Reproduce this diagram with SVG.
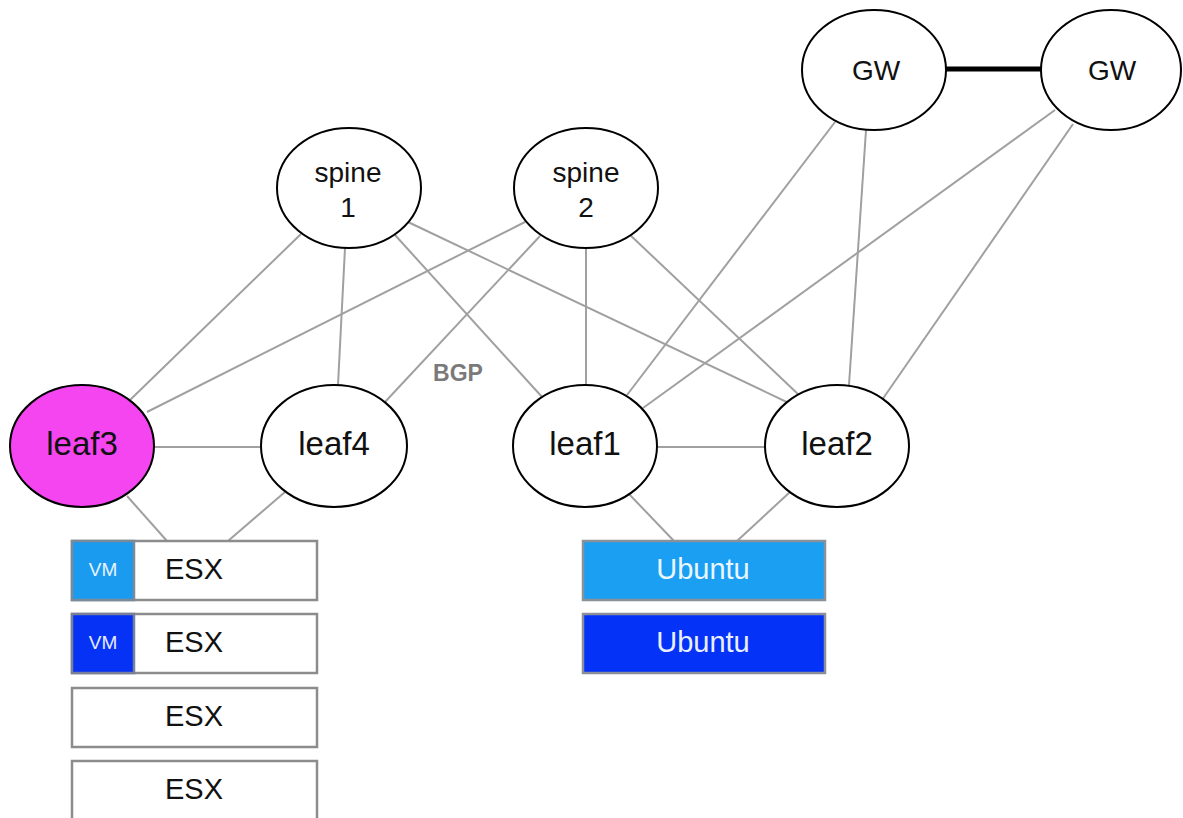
<svg xmlns="http://www.w3.org/2000/svg" width="1183" height="818" viewBox="0 0 1183 818">
<style>
.n{stroke:#000;stroke-width:2;fill:#fff}
.c line{stroke:#a0a0a0;stroke-width:2}
.t{font-family:"Liberation Sans",Arial,sans-serif;fill:#111;text-anchor:middle}
.b{stroke:#8c8c8c;stroke-width:2.5;fill:#fff}
</style>
<rect width="1183" height="818" fill="#fff"/>
<g id="connectors" class="c">
<line x1="301" y1="234" x2="130" y2="400"/>
<line x1="345" y1="248" x2="338" y2="385"/>
<line x1="395" y1="235" x2="543" y2="398"/>
<line x1="408" y1="222" x2="793" y2="405"/>
<line x1="525" y1="222" x2="147" y2="412"/>
<line x1="540" y1="236" x2="385" y2="402"/>
<line x1="586" y1="248" x2="586" y2="385"/>
<line x1="628" y1="233" x2="800" y2="396"/>
<line x1="835" y1="122" x2="627" y2="395"/>
<line x1="866" y1="130" x2="849" y2="385"/>
<line x1="1055" y1="110" x2="643" y2="408"/>
<line x1="1073" y1="124" x2="882" y2="400"/>
<line x1="154" y1="447" x2="260" y2="447"/>
<line x1="658" y1="447" x2="765" y2="447"/>
<line x1="127" y1="496" x2="167" y2="541"/>
<line x1="285" y1="492" x2="228" y2="541"/>
<line x1="628" y1="493" x2="674" y2="541"/>
<line x1="790" y1="492" x2="737" y2="541"/>
<line x1="946" y1="69" x2="1043" y2="69" style="stroke:#000;stroke-width:5"/>
</g>
<text x="458" y="381" class="t" style="font-size:23px;font-weight:bold;fill:#7a7a7a">BGP</text>
<g id="gw1"><ellipse class="n" cx="874" cy="70" rx="72" ry="60"/><text class="t" x="876" y="80" font-size="28">GW</text></g>
<g id="gw2"><ellipse class="n" cx="1111" cy="70" rx="70" ry="60"/><text class="t" x="1112" y="80" font-size="28">GW</text></g>
<g id="spine1"><ellipse class="n" cx="349" cy="188" rx="72" ry="60"/><text class="t" x="348" y="182" font-size="28">spine</text><text class="t" x="348" y="217" font-size="28">1</text></g>
<g id="spine2"><ellipse class="n" cx="586" cy="188" rx="72" ry="60"/><text class="t" x="586" y="182" font-size="28">spine</text><text class="t" x="586" y="217" font-size="28">2</text></g>
<g id="leaf3"><ellipse class="n" cx="82" cy="446" rx="72" ry="61" style="fill:#f545f0"/><text class="t" x="82" y="455" font-size="33">leaf3</text></g>
<g id="leaf4"><ellipse class="n" cx="334" cy="446" rx="73" ry="61"/><text class="t" x="334" y="455" font-size="33">leaf4</text></g>
<g id="leaf1"><ellipse class="n" cx="585" cy="446" rx="72" ry="61"/><text class="t" x="585" y="455" font-size="33">leaf1</text></g>
<g id="leaf2"><ellipse class="n" cx="837" cy="446" rx="72" ry="61"/><text class="t" x="837" y="455" font-size="33">leaf2</text></g>
<g id="esx1"><rect class="b" x="72" y="541" width="245" height="59"/><rect x="72" y="541" width="62" height="59" fill="#1a9bf0" stroke="#7a8a99" stroke-width="2.5"/><text class="t" x="103" y="576" font-size="19" style="fill:#e6f4ff">VM</text><text class="t" x="194" y="579" font-size="29">ESX</text></g>
<g id="esx2"><rect class="b" x="72" y="614" width="245" height="59"/><rect x="72" y="614" width="62" height="59" fill="#0532f5" stroke="#7a8099" stroke-width="2.5"/><text class="t" x="103" y="649" font-size="19" style="fill:#e6ecff">VM</text><text class="t" x="194" y="652" font-size="29">ESX</text></g>
<g id="esx3"><rect class="b" x="72" y="688" width="245" height="59"/><text class="t" x="194" y="726" font-size="29">ESX</text></g>
<g id="esx4"><rect class="b" x="72" y="761" width="245" height="70"/><text class="t" x="194" y="799" font-size="29">ESX</text></g>
<g id="ubuntu1"><rect x="583" y="541" width="242" height="59" fill="#1a9ff2" stroke="#8a9199" stroke-width="2.5"/><text class="t" x="703" y="579" font-size="29" style="fill:#eaf6ff">Ubuntu</text></g>
<g id="ubuntu2"><rect x="583" y="614" width="242" height="59" fill="#0433f7" stroke="#8a8f99" stroke-width="2.5"/><text class="t" x="703" y="652" font-size="29" style="fill:#eaefff">Ubuntu</text></g>
</svg>
